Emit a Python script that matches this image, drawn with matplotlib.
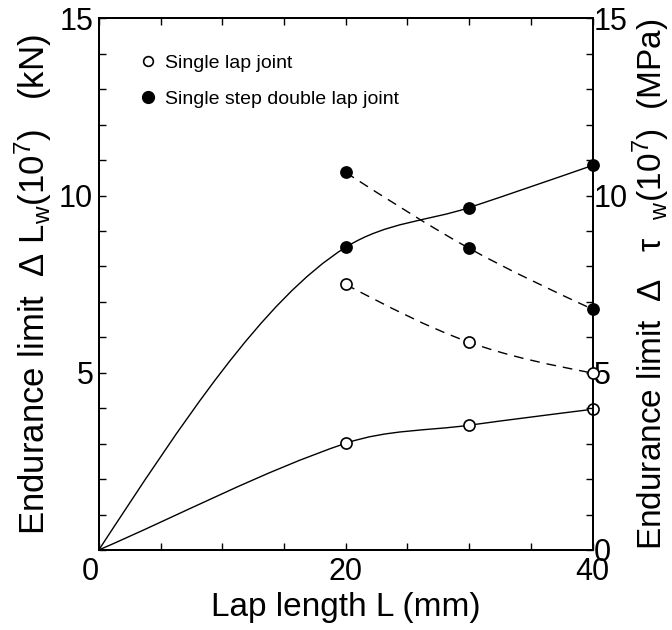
import numpy as np
import matplotlib
matplotlib.use("Agg")
from matplotlib import pyplot as plt
from matplotlib.path import Path
from matplotlib.patches import PathPatch
from matplotlib.lines import Line2D
from matplotlib.ticker import MultipleLocator

plt.rcParams['font.family'] = ['Liberation Sans', 'DejaVu Sans']
plt.rcParams['mathtext.fontset'] = 'custom'
plt.rcParams['mathtext.rm'] = 'Liberation Sans'
plt.rcParams['mathtext.it'] = 'Liberation Sans:italic'

# lap length (mm)
lap_load = [0, 20, 30, 40]
lap_stress = [20, 30, 40]
x_ticks = [0, 20, 40]
# endurance limit load (kN), solid lines, left axis
single_load = [0, 3.01, 3.52, 3.97]
double_load = [0, 8.54, 9.66, 10.85]
# endurance limit stress (MPa), dashed lines, right axis
single_stress = [7.49, 5.86, 4.99]
double_stress = [10.65, 8.51, 6.79]


def smooth_path(x, y, start='natural'):
    # cubic bezier through the points (hermite slopes from neighbours)
    x = np.asarray(x, float)
    y = np.asarray(y, float)
    h = np.diff(x)
    d = np.diff(y) / h
    m = np.zeros(len(x))
    for i in range(1, len(x) - 1):
        m[i] = (d[i-1]*h[i] + d[i]*h[i-1]) / (h[i-1] + h[i])
    if start == 'secant':
        m[0] = d[0]
        m[1] = (d[0] + m[1]) / 2
    else:
        m[0] = (3*d[0] - m[1]) / 2
    m[-1] = (3*d[-1] - m[-2]) / 2
    verts = [(x[0], y[0])]
    codes = [Path.MOVETO]
    for i in range(len(x) - 1):
        verts += [(x[i] + h[i]/3, y[i] + m[i]*h[i]/3),
                  (x[i+1] - h[i]/3, y[i+1] - m[i+1]*h[i]/3),
                  (x[i+1], y[i+1])]
        codes += [Path.CURVE4]*3
    return Path(verts, codes)


fig = plt.figure(figsize=(6.72, 6.30), dpi=100)
ax = fig.add_axes([0.147, 0.127, 0.735, 0.844])
ax2 = ax.twinx()

lw = 1.0
ms = 8
dash = (0, (7, 5))
curves = [(lap_load, single_load, '-', ax, 'secant'),
          (lap_load, double_load, '-', ax, 'natural'),
          (lap_stress, single_stress, dash, ax2, 'natural'),
          (lap_stress, double_stress, dash, ax2, 'natural')]
for xs, ys, ls, ax_, st in curves:
    ax_.add_patch(PathPatch(smooth_path(xs, ys, st), fill=False, lw=lw, ls=ls, ec='black',
                            zorder=2, clip_on=False))

ax.plot(lap_load[1:], single_load[1:], 'o', ms=ms, mfc='white', mec='black', mew=1.2,
        zorder=5, clip_on=False)
ax.plot(lap_load[1:], double_load[1:], 'o', ms=ms, mfc='black', mec='black', mew=1.2,
        zorder=5, clip_on=False)
ax2.plot(lap_stress, single_stress, 'o', ms=ms, mfc='white', mec='black', mew=1.2,
         zorder=5, clip_on=False)
ax2.plot(lap_stress, double_stress, 'o', ms=ms, mfc='black', mec='black', mew=1.2,
         zorder=5, clip_on=False)

ax.set_xlim(0, 40)
ax.set_ylim(0, 15)
ax2.set_ylim(0, 15)

ax.set_xticks(x_ticks, [str(v) for v in x_ticks])
ax.xaxis.set_minor_locator(MultipleLocator(5))
ax.set_yticks([5, 10, 15])
ax.yaxis.set_minor_locator(MultipleLocator(1))
ax2.yaxis.set_major_locator(MultipleLocator(5))
ax2.yaxis.set_minor_locator(MultipleLocator(1))

ax.tick_params(axis='x', which='both', direction='in', top=True, length=5, width=1,
               labelsize=22, pad=5)
ax.tick_params(axis='y', which='both', direction='in', length=5, width=1, labelsize=22, pad=4)
ax2.tick_params(axis='y', which='both', direction='in', length=5, width=1, labelsize=22, pad=1)

# the "0" of the lap length axis sits left of the corner
ax.get_xticklabels()[0].set_ha('right')

for a in (ax, ax2):
    for s in a.spines.values():
        s.set_linewidth(1.4)

ax.set_xlabel('Lap length L (mm)', fontsize=24, labelpad=4)
ax.set_ylabel('Endurance limit  Δ L$_\\mathregular{w}$(10$^\\mathregular{7}$)   (kN)',
              fontsize=25, labelpad=4)
ax2.set_ylabel('Endurance limit  Δ   τ  $_\\mathregular{w}$(10$^\\mathregular{7}$)  (MPa)',
               fontsize=24, labelpad=2)

handles = [Line2D([], [], ls='none', marker='o', ms=7, mfc='white', mec='black', mew=1.2),
           Line2D([], [], ls='none', marker='o', ms=8.5, mfc='black', mec='black')]
ax.legend(handles, ['Single lap joint', 'Single step double lap joint'],
          loc='upper left', bbox_to_anchor=(0.04, 0.965), frameon=False, fontsize=14,
          handletextpad=0.3, labelspacing=0.95, handlelength=1.2)

fig.savefig('out.png', dpi=100)
